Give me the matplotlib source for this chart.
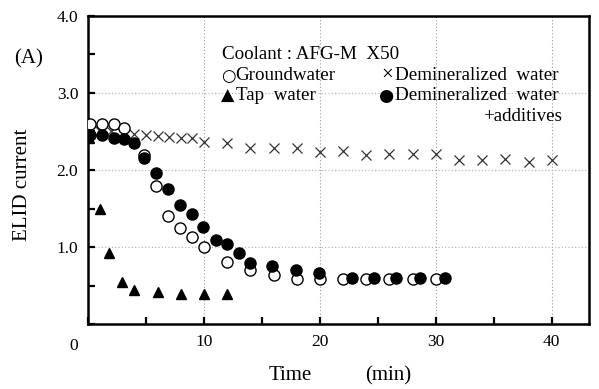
import matplotlib
matplotlib.use("Agg")
import matplotlib.pyplot as plt

plt.rcParams['font.family'] = ['Liberation Serif', 'DejaVu Sans']

# Groundwater (open circles)
t_ground = [0.2, 1.2, 2.2, 3.1, 4.8, 5.9, 6.9, 7.9, 9.0, 10.0, 12.0, 14.0, 16.0,
            18.0, 20.0, 22.0, 24.0, 26.0, 28.0, 30.0]
i_ground = [2.6, 2.6, 2.6, 2.55, 2.2, 1.79, 1.40, 1.25, 1.13, 1.0, 0.8, 0.7, 0.64,
            0.59, 0.59, 0.59, 0.59, 0.59, 0.59, 0.59]

# Demineralized water (crosses)
t_demin = [1, 2, 3, 4, 5, 6, 7, 8, 9, 10, 12, 14, 16, 18, 20, 22, 24, 26, 28, 30,
           32, 34, 36, 38, 40]
i_demin = [2.5, 2.5, 2.48, 2.47, 2.46, 2.44, 2.43, 2.42, 2.41, 2.36, 2.35, 2.29,
           2.29, 2.29, 2.23, 2.25, 2.2, 2.21, 2.21, 2.21, 2.13, 2.13, 2.14, 2.1, 2.13]

# Tap water (triangles)
t_tap = [0.1, 1.0, 1.8, 2.9, 4.0, 6.0, 8.0, 10.0, 12.0]
i_tap = [2.42, 1.5, 0.92, 0.54, 0.44, 0.41, 0.39, 0.39, 0.39]

# Demineralized water + additives (filled circles)
t_add = [0.2, 1.2, 2.2, 3.1, 4.0, 4.8, 5.9, 6.9, 7.9, 9.0, 9.9, 11.0, 12.0, 13.0,
         14.0, 15.9, 17.9, 19.9, 22.8, 24.7, 26.6, 28.6, 30.8]
i_add = [2.45, 2.45, 2.41, 2.40, 2.35, 2.16, 1.96, 1.75, 1.55, 1.43, 1.26, 1.09,
         1.04, 0.92, 0.79, 0.75, 0.70, 0.66, 0.6, 0.6, 0.6, 0.6, 0.6]

xticks = [0, 5, 10, 15, 20, 25, 30, 35, 40]
xlabels = ['', '', '10', '', '20', '', '30', '', '40']
yticks = [0, 0.5, 1.0, 1.5, 2.0, 2.5, 3.0, 3.5, 4.0]
ylabels = ['', '', '1.0', '', '2.0', '', '3.0', '', '4.0']

fig = plt.figure(figsize=(5.99, 3.89), dpi=100)
ax = fig.add_axes([0.147, 0.167, 0.836, 0.792])

ax.plot(t_demin, i_demin, ls='none', marker='x', ms=7.5, mew=0.9, color='#333333', zorder=2)
ax.plot(t_tap, i_tap, ls='none', marker='^', ms=7.5, color='black', zorder=3)
ax.plot(t_ground, i_ground, ls='none', marker='o', ms=8, mfc='white', mec='black', mew=1.0, zorder=4)
ax.plot(t_add, i_add, ls='none', marker='o', ms=8, mfc='black', mec='black', zorder=5)

ax.set_xlim(0, 43.2)
ax.set_ylim(0, 4.0)
ax.set_xticks(xticks)
ax.set_xticklabels(xlabels)
ax.set_yticks(yticks)
ax.set_yticklabels(ylabels)
ax.tick_params(direction='in', length=5, width=1.6, labelsize=12.5, pad=7)

for x in [10, 20, 30, 40]:
    ax.axvline(x, color='#999999', lw=0.8, ls=(0, (1, 2)), zorder=1)
for y in [1.0, 2.0, 3.0]:
    ax.axhline(y, color='#aaaaaa', lw=0.8, ls=(0, (1, 2)), zorder=1)

for s in ax.spines.values():
    s.set_linewidth(1.8)

ax.text(-0.02, -0.045, '0', transform=ax.transAxes, ha='right', va='top', fontsize=12.5)
ax.text(-0.118, 0.86, '(A)', transform=ax.transAxes, ha='center', va='center', fontsize=15)

fig.text(0.485, 0.035, 'Time', ha='center', va='center', fontsize=15)
fig.text(0.648, 0.035, '(min)', ha='center', va='center', fontsize=15)
fig.text(0.037, 0.525, 'ELID current', rotation=90, ha='center', va='center', fontsize=15)

fs = 13.7
sym = dict(transform=ax.transAxes, va='center', family='DejaVu Sans')
txt = dict(transform=ax.transAxes, va='center', fontsize=fs)
ax.text(0.268, 0.874, 'Coolant : AFG-M  X50', **txt)
ax.text(0.266, 0.806, '\u25cb', fontsize=12, **sym)
ax.text(0.294, 0.806, 'Groundwater', **txt)
ax.text(0.266, 0.741, '\u25b2', fontsize=12.5, **sym)
ax.text(0.296, 0.741, 'Tap  water', **txt)
ax.text(0.585, 0.806, '\u00d7', fontsize=15, transform=ax.transAxes, va='center')
ax.text(0.613, 0.806, 'Demineralized  water', **txt)
ax.text(0.580, 0.741, '\u25cf', fontsize=12.5, **sym)
ax.text(0.613, 0.741, 'Demineralized  water', **txt)
ax.text(0.946, 0.673, '+additives', ha='right', **txt)

fig.savefig('out.png', dpi=100)
